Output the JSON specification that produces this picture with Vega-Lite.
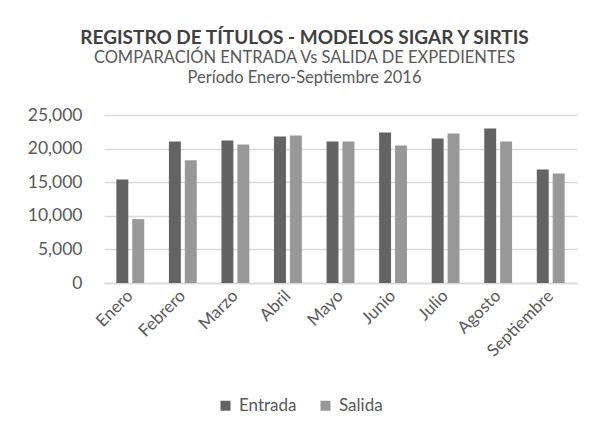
{
  "$schema": "https://vega.github.io/schema/vega-lite/v6.json",
  "autosize": {"type": "none"},
  "padding": {"left": 104, "top": 115, "right": 19, "bottom": 151},
  "width": 473,
  "height": 168,
  "background": "white",
  "title": {
    "text": "REGISTRO DE TÍTULOS - MODELOS SIGAR Y SIRTIS",
    "subtitle": ["COMPARACIÓN ENTRADA Vs SALIDA DE EXPEDIENTES", "Período Enero-Septiembre 2016"],
    "anchor": "middle",
    "dx": -36,
    "offset": 20,
    "font": "Lato",
    "fontSize": 19,
    "fontWeight": "bold",
    "color": "#404040",
    "subtitleFont": "Lato",
    "subtitleFontSize": 16.5,
    "subtitleColor": "#595959",
    "subtitleLineHeight": 19.5,
    "subtitlePadding": 2
  },
  "data": {
    "values": [
      {"mes": "Enero", "serie": "Entrada", "valor": 15400},
      {"mes": "Enero", "serie": "Salida", "valor": 9500},
      {"mes": "Febrero", "serie": "Entrada", "valor": 21050},
      {"mes": "Febrero", "serie": "Salida", "valor": 18250},
      {"mes": "Marzo", "serie": "Entrada", "valor": 21200},
      {"mes": "Marzo", "serie": "Salida", "valor": 20600},
      {"mes": "Abril", "serie": "Entrada", "valor": 21800},
      {"mes": "Abril", "serie": "Salida", "valor": 21950},
      {"mes": "Mayo", "serie": "Entrada", "valor": 21050},
      {"mes": "Mayo", "serie": "Salida", "valor": 21050},
      {"mes": "Junio", "serie": "Entrada", "valor": 22400},
      {"mes": "Junio", "serie": "Salida", "valor": 20450},
      {"mes": "Julio", "serie": "Entrada", "valor": 21500},
      {"mes": "Julio", "serie": "Salida", "valor": 22250},
      {"mes": "Agosto", "serie": "Entrada", "valor": 23000},
      {"mes": "Agosto", "serie": "Salida", "valor": 21050},
      {"mes": "Septiembre", "serie": "Entrada", "valor": 16900},
      {"mes": "Septiembre", "serie": "Salida", "valor": 16300}
    ]
  },
  "mark": {"type": "bar"},
  "encoding": {
    "x": {
      "field": "mes",
      "type": "nominal",
      "sort": null,
      "scale": {"paddingInner": 0.47, "paddingOuter": 0.235},
      "axis": {
        "title": null,
        "labelAngle": -45,
        "labelAlign": "right",
        "labelBaseline": "middle",
        "labelFont": "Lato",
        "labelFontSize": 17,
        "labelColor": "#595959",
        "labelPadding": 10,
        "ticks": false,
        "domainColor": "#d9d9d9",
        "domainWidth": 1.5
      }
    },
    "xOffset": {
      "field": "serie",
      "type": "nominal",
      "scale": {"paddingInner": 0.25, "paddingOuter": 0}
    },
    "y": {
      "field": "valor",
      "type": "quantitative",
      "scale": {"domain": [0, 25000]},
      "axis": {
        "title": null,
        "values": [0, 5000, 10000, 15000, 20000, 25000],
        "format": ",d",
        "labelFont": "Lato",
        "labelFontSize": 17.5,
        "labelColor": "#595959",
        "labelPadding": 22,
        "ticks": false,
        "domain": false,
        "gridColor": "#d9d9d9",
        "gridWidth": 1.5
      }
    },
    "color": {
      "field": "serie",
      "type": "nominal",
      "scale": {"domain": ["Entrada", "Salida"], "range": ["#636363", "#989898"]},
      "legend": {
        "title": null,
        "orient": "none",
        "direction": "horizontal",
        "legendX": 113,
        "legendY": 282,
        "symbolType": "square",
        "symbolSize": 100,
        "symbolStrokeWidth": 0,
        "symbolOpacity": 1,
        "labelFont": "Lato",
        "labelFontSize": 17,
        "labelColor": "#595959",
        "labelOffset": 5,
        "columnPadding": 20
      }
    }
  },
  "config": {"view": {"stroke": null}}
}
